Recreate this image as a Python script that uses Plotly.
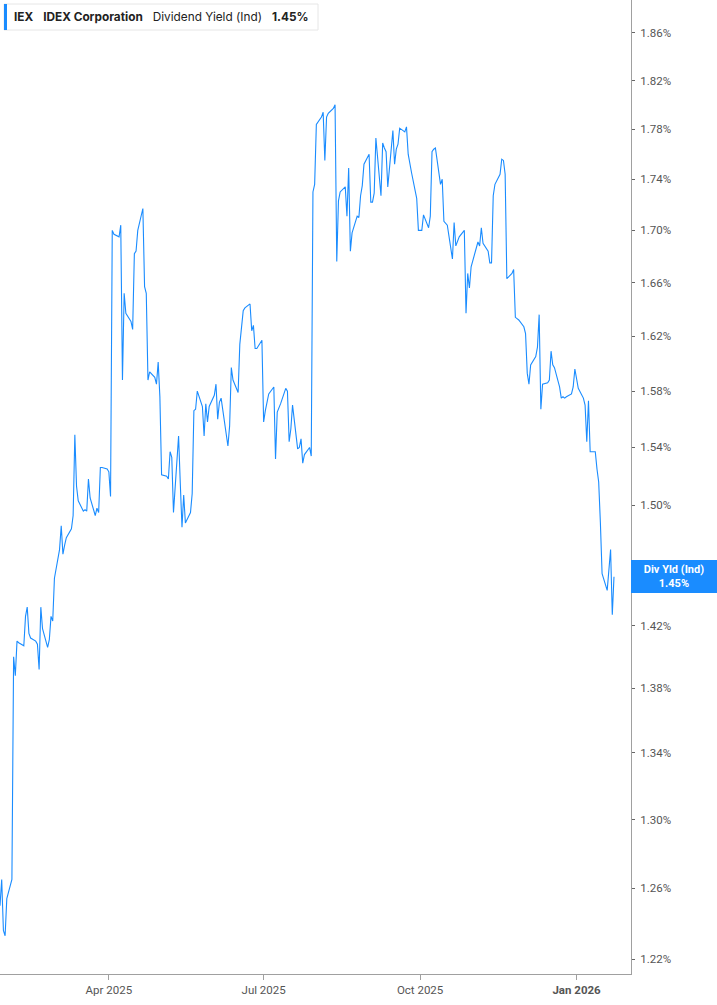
import math
import pandas as pd
import plotly.graph_objects as go

# Dividend yield (%) by trading day, starting 2025-01-27
yields = [
    1.250, 1.265, 1.236, 1.233, 1.254, 1.265, 1.400, 1.388, 1.410, 1.409,
    1.407, 1.426, 1.432, 1.415, 1.412, 1.410, 1.408, 1.392, 1.432, 1.418,
    1.406, 1.411, 1.426, 1.423, 1.451, 1.470, 1.486, 1.467, 1.473, 1.478,
    1.484, 1.493, 1.549, 1.513, 1.503, 1.496, 1.497, 1.496, 1.518, 1.505,
    1.493, 1.498, 1.495, 1.526, 1.526, 1.525, 1.523, 1.506, 1.700, 1.697,
    1.695, 1.704, 1.588, 1.652, 1.637, 1.631, 1.625, 1.682, 1.684, 1.700,
    1.717, 1.657, 1.652, 1.588, 1.594, 1.590, 1.585, 1.601, 1.576, 1.521,
    1.520, 1.518, 1.537, 1.533, 1.495, 1.548, 1.515, 1.485, 1.507, 1.488,
    1.495, 1.508, 1.566, 1.567, 1.580, 1.569, 1.548, 1.571, 1.558, 1.569,
    1.577, 1.585, 1.560, 1.572, 1.575, 1.549, 1.541, 1.555, 1.597, 1.588,
    1.579, 1.614, 1.627, 1.639, 1.641, 1.644, 1.624, 1.628, 1.611, 1.611,
    1.617, 1.558, 1.566, 1.572, 1.578, 1.583, 1.532, 1.565, 1.568, 1.571,
    1.582, 1.580, 1.544, 1.553, 1.570, 1.539, 1.540, 1.546, 1.529, 1.535,
    1.540, 1.534, 1.730, 1.736, 1.784, 1.790, 1.794, 1.755, 1.790, 1.793,
    1.797, 1.800, 1.676, 1.723, 1.730, 1.734, 1.711, 1.749, 1.684, 1.698,
    1.711, 1.710, 1.727, 1.735, 1.752, 1.760, 1.722, 1.722, 1.729, 1.773,
    1.727, 1.769, 1.765, 1.762, 1.734, 1.779, 1.752, 1.764, 1.768, 1.781,
    1.778, 1.782, 1.760, 1.752, 1.745, 1.725, 1.700, 1.700, 1.700, 1.712,
    1.702, 1.711, 1.762, 1.764, 1.765, 1.736, 1.740, 1.707, 1.705, 1.704,
    1.678, 1.706, 1.688, 1.691, 1.695, 1.700, 1.637, 1.667, 1.656, 1.672,
    1.688, 1.691, 1.688, 1.702, 1.690, 1.684, 1.675, 1.675, 1.727, 1.736,
    1.744, 1.756, 1.755, 1.744, 1.663, 1.667, 1.670, 1.634, 1.633, 1.632,
    1.627, 1.622, 1.593, 1.585, 1.599, 1.605, 1.612, 1.636, 1.567, 1.585,
    1.586, 1.588, 1.609, 1.599, 1.597, 1.583, 1.575, 1.576, 1.575, 1.576,
    1.578, 1.583, 1.596, 1.589, 1.582, 1.575, 1.570, 1.544, 1.573, 1.537,
    1.537, 1.525, 1.516, 1.488, 1.454, 1.443, 1.456, 1.470, 1.427, 1.452,
]
dates = pd.bdate_range(start="2025-01-27", periods=len(yields))

# 1.46% is hidden behind the last-value label in the reference
y_ticks = [1.22, 1.26, 1.30, 1.34, 1.38, 1.42, 1.50, 1.54, 1.58,
           1.62, 1.66, 1.70, 1.74, 1.78, 1.82, 1.86]
x_tickvals = ["2025-04-01", "2025-07-01", "2025-10-01", "2026-01-01"]
x_ticktext = ["Apr 2025", "Jul 2025", "Oct 2025", "<b>Jan 2026</b>"]

ticker = "IEX"
company = "IDEX Corporation"
metric = "Dividend Yield (Ind)"
short_metric = "Div Yld (Ind)"
last_val = yields[-1]

BLUE = "#1a8cff"

fig = go.Figure()
fig.add_trace(go.Scatter(
    x=dates, y=yields, mode="lines",
    line=dict(color=BLUE, width=1.1),
    hoverinfo="skip", showlegend=False,
))

fig.update_layout(
    width=717, height=1005,
    margin=dict(l=0, r=86, t=0, b=31),
    paper_bgcolor="white", plot_bgcolor="white",
    font=dict(family="Roboto, Arial, sans-serif", size=11, color="#555"),
    showlegend=False,
)

fig.update_xaxes(
    range=["2025-01-27", "2026-02-02"],
    tickvals=x_tickvals, ticktext=x_ticktext,
    showgrid=False, zeroline=False,
    showline=True, linecolor="#a0a0a0", linewidth=1,
    ticks="outside", ticklen=5, tickcolor="#a0a0a0",
    tickfont=dict(size=11.5, color="#555"),
)

fig.update_yaxes(
    type="log", side="right",
    range=[0.0834, 0.2760],
    tickvals=y_ticks, ticktext=[f"{v:.2f}%" for v in y_ticks],
    showgrid=False, zeroline=False,
    showline=True, linecolor="#a0a0a0", linewidth=1,
    ticks="outside", ticklen=3, tickcolor="#666",
    ticklabelstandoff=3,
    tickfont=dict(size=11.5, color="#555"),
)

# Legend box at top-left
fig.add_shape(type="rect", xref="paper", yref="paper",
              x0=4 / 631, x1=318 / 631, y0=1 - 30 / 974, y1=1 - 4 / 974,
              line=dict(color="#e6e6e6", width=1), fillcolor="white",
              layer="above")
fig.add_shape(type="rect", xref="paper", yref="paper",
              x0=4 / 631, x1=7 / 631, y0=1 - 30 / 974, y1=1 - 4 / 974,
              line=dict(width=0), fillcolor=BLUE, layer="above")
fig.add_annotation(
    xref="paper", yref="paper", x=12 / 631, y=1 - 17 / 974,
    xanchor="left", yanchor="middle", showarrow=False,
    text=(f"<b>{ticker}</b>&nbsp;&nbsp;&nbsp;<b>{company}</b>&nbsp;&nbsp;&nbsp;"
          f"{metric}&nbsp;&nbsp;&nbsp;<b>{last_val:.2f}%</b>"),
    font=dict(family="Inter, Roboto, sans-serif", size=11.8, color="#222"),
)

# Last-value label on the right axis
fig.add_annotation(
    xref="paper", yref="y", x=1, y=math.log10(last_val),
    xanchor="left", yanchor="middle", showarrow=False,
    text=f"<b>{short_metric}</b><br><b>{last_val:.2f}%</b>",
    font=dict(family="Roboto, Arial, sans-serif", size=11, color="white"),
    bgcolor=BLUE, bordercolor=BLUE, borderpad=2, width=80, align="center",
)

fig.write_html("out.html", config={"displayModeBar": False},
               post_script="document.body.style.margin='0';")
